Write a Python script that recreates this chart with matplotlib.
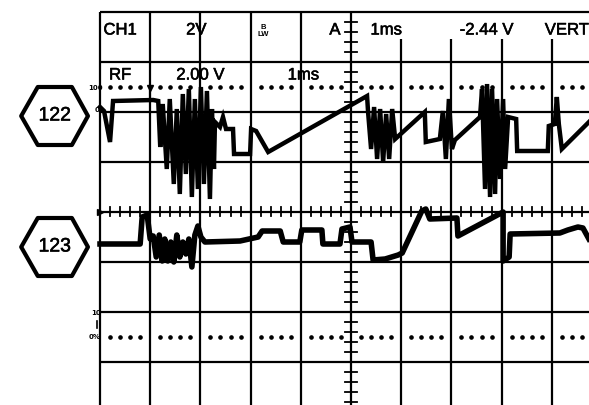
import numpy as np
import matplotlib
matplotlib.use("Agg")
import matplotlib.pyplot as plt
import matplotlib.patheffects as pe
from matplotlib.patches import Polygon

# channel 122 trace: time (div, 1 ms/div) and level (div above centre line)
t_122 = [0.00, 0.08, 0.20, 0.26, 1.06, 1.16, 1.20, 1.25, 1.33, 1.39, 1.47, 1.53,
         1.59, 1.65, 1.71, 1.77, 1.83, 1.89, 1.95, 2.01, 2.07, 2.13, 2.19, 2.23,
         2.27, 2.29, 2.39, 2.45, 2.51, 2.65, 2.67, 2.99, 3.01, 3.11, 3.35, 5.32,
         5.34, 5.40, 5.46, 5.52, 5.58, 5.64, 5.70, 5.76, 5.82, 5.88, 6.47, 6.49,
         6.77, 6.83, 6.89, 6.95, 7.01, 7.07, 7.57, 7.61, 7.67, 7.71, 7.77, 7.81,
         7.87, 7.91, 7.97, 8.03, 8.07, 8.13, 8.29, 8.31, 8.92, 8.94, 9.06, 9.10,
         9.14, 9.20, 9.74]
v_122 = [2.10, 2.02, 1.40, 2.22, 2.24, 2.22, 1.30, 2.16, 0.86, 2.26, 0.56, 2.06,
         0.36, 2.36, 0.76, 2.46, 0.30, 2.26, 0.46, 2.50, 0.56, 2.42, 0.26, 2.06,
         0.86, 1.80, 1.70, 1.90, 1.66, 1.66, 1.16, 1.16, 1.66, 1.62, 1.20, 2.32,
         2.00, 1.26, 2.10, 1.06, 2.06, 1.00, 1.96, 1.06, 2.06, 1.46, 2.00, 1.40,
         1.46, 2.02, 1.06, 2.26, 1.26, 1.44, 1.90, 2.46, 0.46, 2.56, 0.30, 2.46,
         0.36, 2.26, 0.66, 2.26, 0.86, 1.90, 1.86, 1.22, 1.22, 1.72, 1.76, 2.30,
         1.76, 1.26, 1.80]

# channel 123 trace
t_123 = [0.00, 0.80, 0.84, 0.94, 1.00, 1.06, 1.12, 1.18, 1.24, 1.29, 1.35, 1.41,
         1.47, 1.53, 1.59, 1.65, 1.71, 1.77, 1.83, 1.89, 1.95, 2.01, 2.09, 2.79,
         3.15, 3.23, 3.59, 3.65, 3.98, 4.02, 4.42, 4.44, 4.78, 4.82, 4.98, 5.02,
         5.40, 5.44, 5.68, 5.94, 6.02, 6.41, 6.49, 6.57, 7.11, 7.13, 8.03, 8.03,
         8.15, 8.17, 9.16, 9.32, 9.52, 9.62, 9.74]
v_123 = [-0.64, -0.64, -0.10, -0.06, -0.54, -0.48, -0.90, -0.46, -0.98, -0.54,
         -0.98, -0.60, -1.00, -0.46, -0.90, -0.60, -0.84, -0.54, -1.10, -0.46,
         -0.28, -0.50, -0.60, -0.58, -0.50, -0.38, -0.38, -0.60, -0.60, -0.36,
         -0.36, -0.64, -0.64, -0.34, -0.30, -0.60, -0.60, -0.96, -0.94, -0.86,
         -0.82, 0.02, 0.06, -0.14, -0.12, -0.48, 0.00, -0.98, -0.90, -0.44,
         -0.42, -0.36, -0.30, -0.32, -0.54]

header_top = ["CH1", "2V", "A", "1ms", "-2.44 V", "VERT"]
header_top_x = [0.40, 1.92, 4.68, 5.70, 7.70, 9.30]
header_low = ["RF", "2.00 V", "1ms"]
header_low_x = [0.40, 2.00, 4.05]
channels = ["122", "123"]
channel_y = [1.92, -0.70]

fig = plt.figure(figsize=(5.89, 4.06), dpi=100)
ax = fig.add_axes([0, 0, 1, 1])
ax.set_xlim(-1.992, 9.741)
ax.set_ylim(-3.86, 4.26)
ax.axis("off")

ink = "black"
grid_lw = 1.6
heavy = [pe.withStroke(linewidth=0.4, foreground=ink)]

# graticule
for gx in range(0, 10):
    top = 4 if gx <= 5 else 3.46
    ax.plot([gx, gx], [-3.9, top], color=ink, lw=grid_lw, solid_capstyle="butt")
for gy in range(-3, 5):
    ax.plot([0, 9.8], [gy, gy], color=ink, lw=grid_lw, solid_capstyle="butt")

# minor ticks on the centre lines
for mx in np.arange(0, 9.8, 0.2):
    ax.plot([mx, mx], [-0.08, 0.1], color=ink, lw=1.3)
for my in np.arange(-3.8, 4.0, 0.2):
    ax.plot([4.88, 5.12], [my, my], color=ink, lw=1.3)

# dotted reference rows
dots = [d for d in np.arange(0.2, 9.8, 0.2) if abs(d - round(d)) > 0.05]
for dy in (2.5, -2.5):
    ax.plot(dots, [dy] * len(dots), ls="none", marker="o", ms=2.3, color=ink)

# traces
ax.plot(t_122, v_122, color=ink, lw=3.2, solid_joinstyle="miter")
ax.plot(t_123, v_123, color=ink, lw=4.0, solid_joinstyle="round")
ax.plot([1.0, 1.0], [2.5, 2.22], color=ink, lw=1.5)
ax.plot([1.0], [2.48], marker="v", ms=4, color=ink)
ax.plot([0.0], [0.0], marker=">", ms=5, color=ink)

# header text
font = "Liberation Sans"
for label, lx in zip(header_top, header_top_x):
    ax.text(lx, 3.64, label, ha="center", va="center", fontsize=12,
            family=font, color=ink, path_effects=heavy)
for label, lx in zip(header_low, header_low_x):
    ax.text(lx, 2.74, label, ha="center", va="center", fontsize=12,
            family=font, color=ink, path_effects=heavy)
ax.text(3.25, 3.64, "B\nLW", ha="center", va="center", fontsize=5.5,
        family=font, weight="bold", linespacing=0.9)

# small scale marks on the left edge
ax.text(-0.08, 2.5, "100", ha="center", va="center", fontsize=5, weight="bold")
ax.text(-0.05, 2.06, "0", ha="center", va="center", fontsize=5, weight="bold")
ax.text(-0.08, -2.0, "10", ha="center", va="center", fontsize=5, weight="bold")
ax.plot([-0.06, -0.06], [-2.18, -2.32], color=ink, lw=1.2)
ax.text(-0.10, -2.48, "0%", ha="center", va="center", fontsize=5, weight="bold")

# channel tags
for name, cy in zip(channels, channel_y):
    hx = [-1.57, -1.24, -0.56, -0.24, -0.56, -1.24]
    hy = [cy, cy + 0.58, cy + 0.58, cy, cy - 0.58, cy - 0.58]
    ax.add_patch(Polygon(np.column_stack([hx, hy]), closed=True, fill=False,
                         lw=3.0, ec=ink, joinstyle="round"))
    ax.text(-0.90, cy, name, ha="center", va="center", fontsize=14,
            family=font, color=ink, path_effects=heavy)

fig.savefig("out.png", dpi=100)
